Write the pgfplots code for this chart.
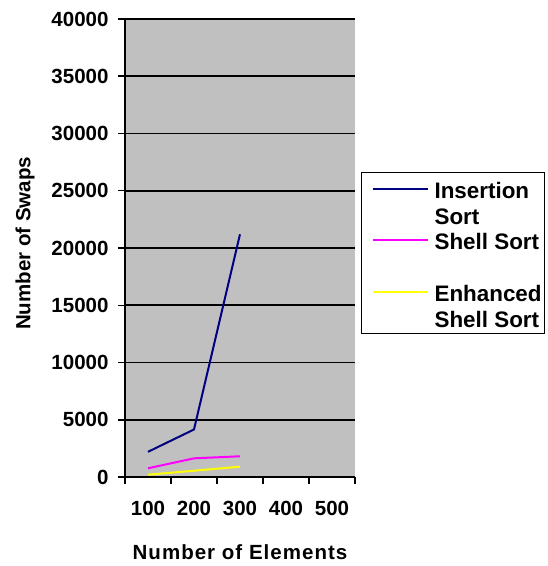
\documentclass[border=0pt]{standalone}
\usepackage{fontspec}
\setmainfont{Liberation Sans}
\usepackage{pgfplots}
\pgfplotsset{compat=1.18}
\definecolor{plotbg}{HTML}{C0C0C0}
\definecolor{navyline}{HTML}{000080}
\definecolor{magline}{HTML}{FF00FF}
\definecolor{yelline}{HTML}{FFFF00}
\newcommand\fs{\fontsize{20.5bp}{24bp}\selectfont\bfseries}
\newcommand\fl{\fontsize{22.4bp}{26bp}\selectfont\bfseries}
\newcommand\fx{\fontsize{20.5bp}{24bp}\selectfont\bfseries\addfontfeatures{LetterSpace=5}}
\newcommand\ls{\rule[-5.75bp]{0pt}{26.5bp}}
\begin{document}
\begin{tikzpicture}
\useasboundingbox (-125bp,-89bp) rectangle (423bp,477bp);
\begin{axis}[
  at={(0,0)}, anchor=south west,
  scale only axis, width=230bp, height=458bp,
  xmin=0, xmax=5, ymin=0, ymax=40000,
  axis x line*=bottom, axis y line*=left,
  axis line style={line width=1.8bp, -},
  axis background/.style={fill=plotbg},
  xtick={0,1,2,3,4,5}, x tick label as interval,
  xticklabels={100,200,300,400,500},
  ytick={0,5000,...,40000},
  ymajorgrids, grid style={black, line width=1.6bp},
  tick style={black, line width=1.5bp},
  tick align=outside, major tick length=7bp,
  scaled y ticks=false,
  /pgf/number format/set thousands separator={},
  /pgf/number format/assume math mode=true,
  ticklabel style={font=\fs},
  yticklabel style={xshift=-6bp},
  xticklabel style={yshift=-14bp},
  xlabel={Number of Elements}, ylabel={Number of Swaps},
  xlabel style={font=\fx, at={(axis description cs:0.5,-0.164)}, anchor=center},
  ylabel style={font=\fs, at={(axis description cs:-0.435,0.51)}, anchor=center},
  legend style={at={(axis description cs:1.026,0.666)}, anchor=north west,
    draw=black, line width=1.2bp, fill=white, font=\fl,
    inner xsep=3bp, inner ysep=5bp, row sep=3.5bp, column sep=6bp,
    cells={anchor=west}, nodes={inner sep=0pt}},
  legend image code/.code={\path (8bp,4bp); \draw[#1, line width=2bp] (8bp,0bp) -- (63bp,0bp);},
]
\addplot[navyline, line width=2bp] coordinates {(0.5,2200) (1.5,4150) (2.5,21200)};
\addlegendentry{Insertion\ls}
\addlegendimage{empty legend}
\addlegendentry{Sort\ls}
\addplot[magline, line width=2bp] coordinates {(0.5,760) (1.5,1630) (2.5,1810)};
\addlegendentry{Shell Sort\ls}
\addlegendimage{empty legend}
\addlegendentry{\ls}
\addplot[yelline, line width=2bp] coordinates {(0.5,200) (1.5,550) (2.5,900)};
\addlegendentry{Enhanced\ls}
\addlegendimage{empty legend}
\addlegendentry{Shell Sort\ls}
\end{axis}
\end{tikzpicture}
\end{document}
